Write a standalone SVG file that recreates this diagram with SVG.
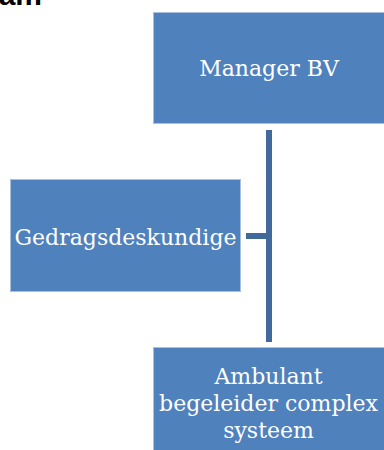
<svg xmlns="http://www.w3.org/2000/svg" width="384" height="450" viewBox="0 0 384 450">
<style>
.box{fill:#4F81BD;stroke:#A9C0E0;stroke-width:1}
.lbl{font-family:"DejaVu Serif","Liberation Serif",serif;font-size:22px;fill:#FFFFFF;text-anchor:middle}
.conn{stroke:#41699B;stroke-width:6;fill:none}
</style>
<rect width="384" height="450" fill="#FFFFFF"/>
<text x="42" y="5" font-family="Liberation Sans, Arial, sans-serif" font-weight="bold" font-size="30" text-anchor="end" fill="#000">am</text>
<g id="connectors">
<line class="conn" x1="269" y1="130" x2="269" y2="342"/>
<line class="conn" x1="246" y1="236" x2="269" y2="236"/>
</g>
<g id="manager">
<rect class="box" x="153.5" y="12.5" width="231" height="111"/>
<text class="lbl" x="269" y="76">Manager BV</text>
</g>
<g id="gedragsdeskundige">
<rect class="box" x="10.5" y="179.5" width="230" height="112"/>
<text class="lbl" x="125.5" y="245">Gedragsdeskundige</text>
</g>
<g id="ambulant">
<rect class="box" x="153.5" y="347.5" width="231" height="104"/>
<text class="lbl" x="268.5" y="384">Ambulant</text>
<text class="lbl" x="268.5" y="411">begeleider complex</text>
<text class="lbl" x="268.5" y="438">systeem</text>
</g>
</svg>
